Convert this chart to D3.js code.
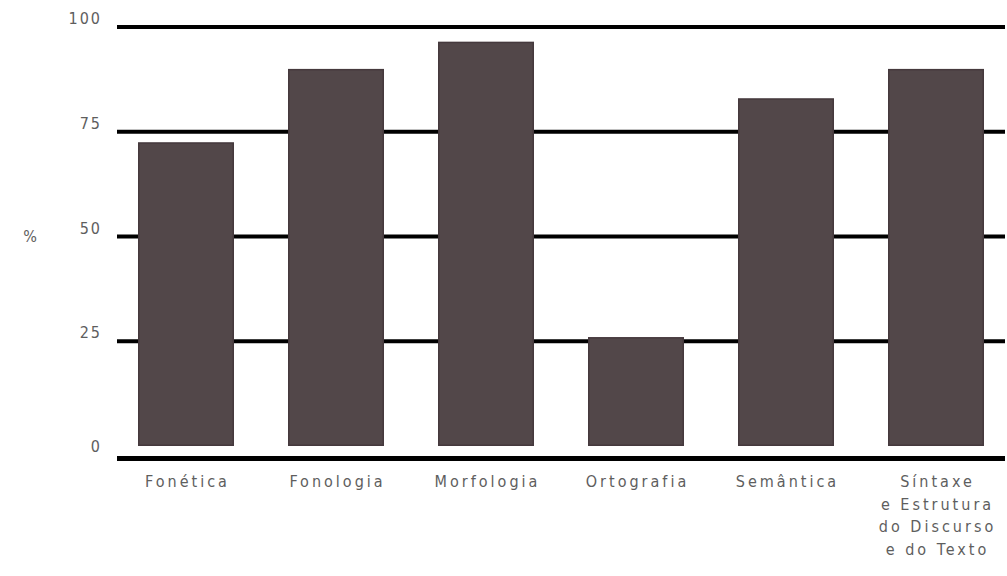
<!DOCTYPE html>
<html>
<head>
<meta charset="utf-8">
<script src="https://cdn.jsdelivr.net/npm/d3@7"></script>
<style>
  body { margin: 0; background: #fff; }
  text { font-family: "Liberation Sans Narrow", "DejaVu Sans Condensed", sans-serif; fill: #5e5e5e; }
</style>
</head>
<body>
<svg id="chart" width="1007" height="576"></svg>
<script>
const categories = ["Fonética", "Fonologia", "Morfologia", "Ortografia", "Semântica",
  "Síntaxe|e Estrutura|do Discurso|e do Texto"];
const values = [72.5, 90, 96.5, 26, 83, 90];
const yTicks = [0, 25, 50, 75, 100];

const svg = d3.select('#chart');

const x = d3.scaleBand()
  .domain(categories)
  .range([111, 1011])
  .paddingInner(0.36)
  .paddingOuter(0.18);

const y = d3.scaleLinear()
  .domain([0, 100])
  .range([446, 27]);

// gridlines (drawn behind bars)
svg.append('g')
  .selectAll('line')
  .data(yTicks.filter(d => d > 0))
  .enter().append('line')
  .attr('x1', 117)
  .attr('x2', 1005)
  .attr('y1', d => y(d))
  .attr('y2', d => y(d))
  .attr('stroke', '#000')
  .attr('stroke-width', 4);

// zero axis line sits a bit under the bars
svg.append('line')
  .attr('x1', 117)
  .attr('x2', 1005)
  .attr('y1', y(0) + 12.5)
  .attr('y2', y(0) + 12.5)
  .attr('stroke', '#000')
  .attr('stroke-width', 5);

svg.append('g')
  .selectAll('rect')
  .data(values)
  .enter().append('rect')
  .attr('x', (d, i) => x(categories[i]) + 0.75)
  .attr('width', x.bandwidth() - 1.5)
  .attr('y', d => y(d) + 0.75)
  .attr('height', d => y(0) - y(d) - 1.5)
  .attr('fill', '#524749')
  .attr('stroke', '#45393d')
  .attr('stroke-width', 1.5);

// y tick labels
svg.append('g')
  .selectAll('text')
  .data(yTicks)
  .enter().append('text')
  .attr('x', 102)
  .attr('y', d => d === 0 ? y(0) + 6 : y(d) - 3)
  .attr('text-anchor', 'end')
  .style('font-size', '16px')
  .style('letter-spacing', '2px')
  .text(d => d);

svg.append('text')
  .attr('x', 30)
  .attr('y', 242)
  .attr('text-anchor', 'middle')
  .style('font-size', '16px')
  .text('%');

// category labels
const labels = svg.append('g')
  .selectAll('text')
  .data(categories)
  .enter().append('text')
  .attr('text-anchor', 'middle')
  .style('font-size', '16px')
  .style('letter-spacing', '3px')
  .attr('transform', d => `translate(${x(d) + x.bandwidth() / 2 + 1.5},487)`);

labels.selectAll('tspan')
  .data(d => d.split('|'))
  .enter().append('tspan')
  .attr('x', 0)
  .attr('y', (d, i) => i * 22.5)
  .text(d => d);
</script>
</body>
</html>
